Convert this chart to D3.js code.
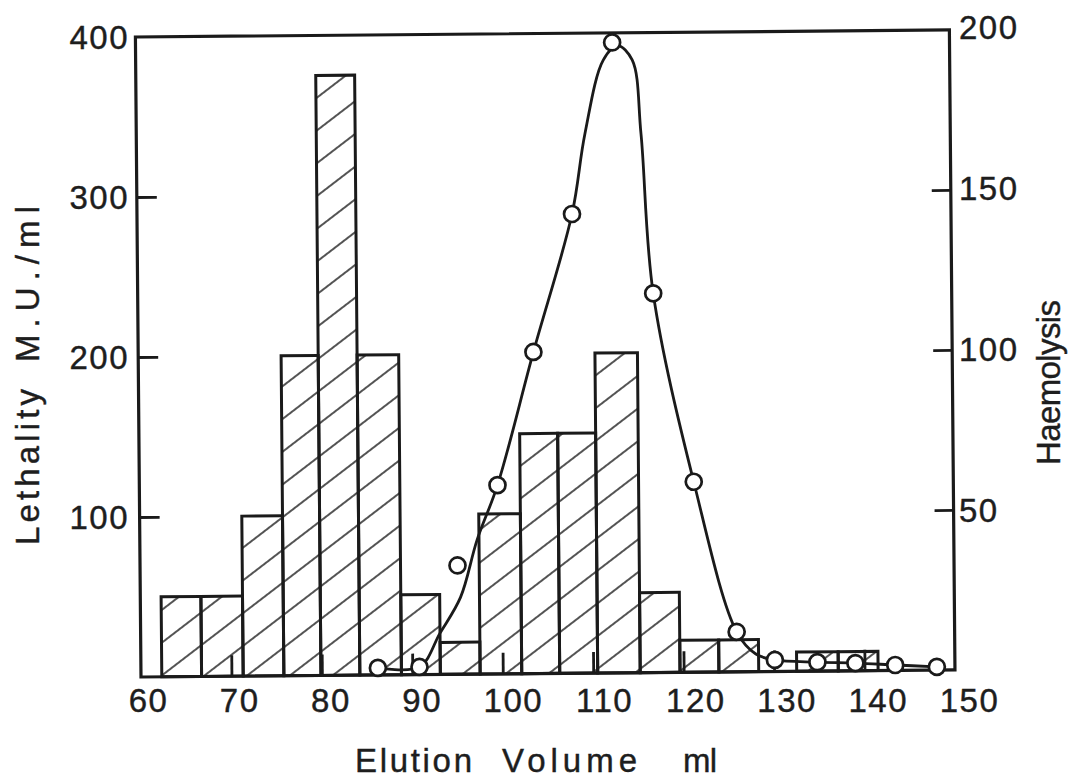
<!DOCTYPE html>
<html>
<head>
<meta charset="utf-8">
<script src="https://cdn.jsdelivr.net/npm/d3@7"></script>
<style>
  html, body { margin: 0; padding: 0; background: #ffffff; }
  svg { display: block; }
  text { font-family: "Liberation Sans", Arial, Helvetica, sans-serif; fill: #1e1e1e; }
</style>
</head>
<body>
<div id="chart"></div>
<script>
// ---------------- data ----------------
// Histogram: lethality (M.U./ml) per fraction; fraction boundaries in ml
const binEdges = [62.3, 66.7, 71.3, 75.8, 79.9, 84.2, 88.8, 93.1, 97.5, 102.1, 106.3, 110.5, 115.2, 119.6, 123.9, 128.3, 132.5, 137.1, 141.5];
const lethality = [50, 50, 100, 200, 375, 200, 50, 20, 100, 150, 150, 200, 50, 20, 20, 0, 12, 12];

// Haemolysis measurements (open circles)
const hemoVolume = [86.2, 90.8, 95.1, 99.6, 103.7, 108.1, 112.7, 117.0, 121.3, 125.9, 130.1, 134.8, 139.0, 143.4, 148.0];
const hemoValue  = [2.2, 2.4, 34, 59, 100.5, 143.5, 197, 118.5, 59.5, 12.5, 3.6, 2.8, 2.4, 1.7, 1.0];

// Hand-drawn smooth curve through the haemolysis profile
const curveVolume = [86.2, 90.8, 93.1, 95.4, 97.3, 99.6, 103.7, 108.1, 109.6, 111.7, 113.3, 114.9, 115.8, 117.0, 121.3, 125.9, 128.0, 130.1, 134.8, 139.0, 143.4, 148.0];
const curveValue  = [2.2, 2.4, 12.9, 24, 42, 59, 100.5, 143.5, 168.5, 191.5, 196, 191.5, 168.5, 118.5, 59.5, 12.5, 5.5, 3.6, 2.8, 2.4, 1.7, 1.0];

// Tick labels
const xTicks = [60, 70, 80, 90, 100, 110, 120, 130, 140, 150];
const xTickMarks = [70, 80, 90, 100, 110, 120, 130, 140];
const leftTicks = [100, 200, 300, 400];
const leftTickMarks = [100, 200, 300];
const rightTicks = [50, 100, 150, 200];
const rightTickMarks = [50, 100, 150];

// ---------------- drawing ----------------
const W = 1069, H = 779;
const ink = "#1a1a1a";
const fontFamily = '"Liberation Sans", Arial, Helvetica, sans-serif';
const fontSize = "33px";

const svg = d3.select("#chart").append("svg")
  .attr("width", W).attr("height", H)
  .attr("viewBox", `0 0 ${W} ${H}`);

svg.append("rect").attr("width", W).attr("height", H).attr("fill", "#ffffff");

const defs = svg.append("defs");
const pat = defs.append("pattern")
  .attr("id", "hatch")
  .attr("patternUnits", "userSpaceOnUse")
  .attr("width", 40).attr("height", 26)
  .attr("patternTransform", "rotate(-37)");
pat.append("line")
  .attr("x1", 0).attr("y1", 13).attr("x2", 40).attr("y2", 13)
  .attr("stroke", ink).attr("stroke-width", 1.5);

// scales (plot frame, slightly tilted like the scanned original)
const x = d3.scaleLinear().domain([60, 150]).range([141, 955]);
const yL = d3.scaleLinear().domain([0, 400]).range([677, 37]);
const yR = d3.scaleLinear().domain([0, 200]).range([677, 37]);

const plot = svg.append("g").attr("transform", "rotate(-0.5,141,677)");

// bars
const bars = lethality.map((v, i) => ({ x0: binEdges[i], x1: binEdges[i + 1], v }))
  .filter(d => d.v > 0);
plot.append("g").selectAll("rect").data(bars).join("rect")
  .attr("x", d => x(d.x0))
  .attr("y", d => yL(d.v))
  .attr("width", d => x(d.x1) - x(d.x0))
  .attr("height", d => yL(0) - yL(d.v))
  .attr("fill", "url(#hatch)")
  .attr("stroke", ink)
  .attr("stroke-width", 3);

// frame
plot.append("rect")
  .attr("x", x.range()[0]).attr("y", yL.range()[1])
  .attr("width", x.range()[1] - x.range()[0])
  .attr("height", yL.range()[0] - yL.range()[1])
  .attr("fill", "none").attr("stroke", ink).attr("stroke-width", 3.2);

// inward tick marks
function styleTicks(g) {
  g.select(".domain").remove();
  g.selectAll(".tick line").attr("stroke", ink).attr("stroke-width", 2.8);
  g.selectAll(".tick text").remove();
}
plot.append("g").attr("transform", `translate(0,${yL(0)})`)
  .call(d3.axisBottom(x).tickValues(xTickMarks).tickSize(-21)).call(styleTicks);
plot.append("g").attr("transform", `translate(${x(60)},0)`)
  .call(d3.axisLeft(yL).tickValues(leftTickMarks).tickSize(-20)).call(styleTicks);
plot.append("g").attr("transform", `translate(${x(150)},0)`)
  .call(d3.axisRight(yR).tickValues(rightTickMarks).tickSize(-19)).call(styleTicks);

// haemolysis curve
const line = d3.line()
  .x((d, i) => x(curveVolume[i]))
  .y((d, i) => yR(curveValue[i]))
  .curve(d3.curveCatmullRom.alpha(0.5));
plot.append("path")
  .attr("d", line(curveVolume))
  .attr("fill", "none").attr("stroke", ink).attr("stroke-width", 2.8);

// circles
plot.append("g").selectAll("circle").data(hemoVolume).join("circle")
  .attr("cx", (d) => x(d))
  .attr("cy", (d, i) => yR(hemoValue[i]))
  .attr("r", 8)
  .attr("fill", "#ffffff")
  .attr("stroke", ink).attr("stroke-width", 2.7);

// ---------------- tick labels (placed upright, as typeset) ----------------
const xLab = d3.scaleLinear().domain([60, 150]).range([147, 968]);
const yLab = d3.scaleLinear().domain([0, 400]).range([678, 38]);
const yRLab = d3.scaleLinear().domain([0, 200]).range([672, 28]);

function styleLabels(g) {
  g.select(".domain").remove();
  g.selectAll(".tick line").remove();
  g.selectAll(".tick text")
    .attr("fill", ink)
    .attr("stroke", ink).attr("stroke-width", 0.4)
    .style("font-size", fontSize)
    .style("letter-spacing", "1.5px")
    .style("font-family", fontFamily);
}
svg.append("g").attr("transform", "translate(1,689)")
  .call(d3.axisBottom(xLab).tickValues(xTicks).tickSize(0).tickPadding(0).tickFormat(d3.format("d")))
  .call(styleLabels);
svg.append("g").attr("transform", "translate(129,0)")
  .call(d3.axisLeft(yLab).tickValues(leftTicks).tickSize(0).tickPadding(0).tickFormat(d3.format("d")))
  .call(styleLabels);
svg.append("g").attr("transform", "translate(959,0)")
  .call(d3.axisRight(yRLab).tickValues(rightTicks).tickSize(0).tickPadding(0).tickFormat(d3.format("d")))
  .call(styleLabels);

// ---------------- axis titles ----------------
const titleStyle = sel => sel.style("font-size", fontSize).attr("fill", ink)
  .attr("stroke", ink).attr("stroke-width", 0.4);

[["Elution", 355, 117], ["Volume", 502, 135], ["ml", 683, 34]].forEach(([t, x0, len]) => {
  svg.append("text").text(t)
    .attr("x", x0).attr("y", 772)
    .attr("textLength", len).attr("lengthAdjust", "spacing")
    .call(titleStyle);
});

[["Lethality", 545, 156], ["M.U./ml", 362, 156]].forEach(([t, y0, len]) => {
  svg.append("text").text(t)
    .attr("transform", `translate(39,${y0}) rotate(-90)`)
    .attr("textLength", len).attr("lengthAdjust", "spacing")
    .call(titleStyle);
});

svg.append("text").text("Haemolysis")
  .attr("transform", "translate(1060,465) rotate(-90)")
  .attr("textLength", 165).attr("lengthAdjust", "spacing")
  .call(titleStyle);
</script>
</body>
</html>
